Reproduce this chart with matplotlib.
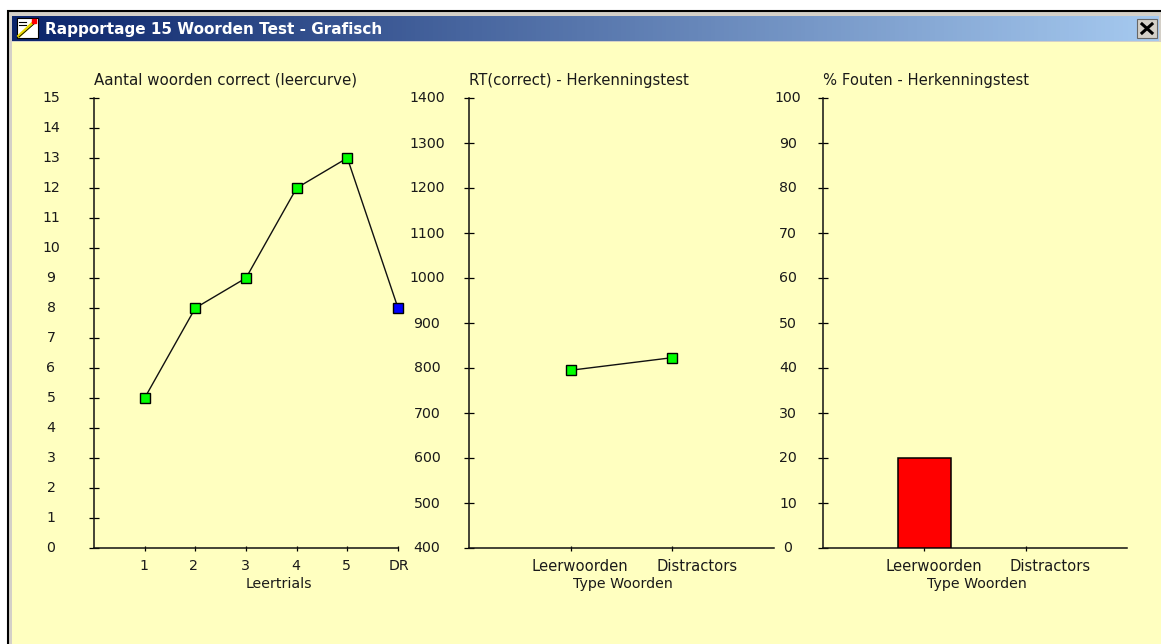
import matplotlib
matplotlib.use('Agg')
import matplotlib.pyplot as plt
import numpy as np
from matplotlib.patches import Rectangle
from matplotlib.transforms import ScaledTranslation

W, H = 1161, 644

# data
trials = ['1', '2', '3', '4', '5', 'DR']
words_correct = [5, 8, 9, 12, 13, 8]
trial_colors = ['#00ff00', '#00ff00', '#00ff00', '#00ff00', '#00ff00', '#0000ff']

types = ['Leerwoorden', 'Distractors']
rt_correct = [795, 823]
pct_errors = [20, 0]

plt.rcParams['font.family'] = ['DejaVu Sans']
FS = 10.2
TXT = '#1a1a1a'
BG = '#ffffc0'


def make_axes(fig, left, right, ylab_offset, top=98, bottom=548):
    ax = fig.add_axes([left / W, 1 - bottom / H, (right - left) / W, (bottom - top) / H])
    ax.patch.set_alpha(0)
    ax.spines['top'].set_visible(False)
    ax.spines['right'].set_visible(False)
    for s in ['left', 'bottom']:
        ax.spines[s].set_linewidth(1.1)
        ax.spines[s].set_color('#111111')
    ax.tick_params(axis='y', direction='inout', length=7.5, width=0.9, pad=(ylab_offset - 5.2) * 0.72,
                   labelsize=FS, labelcolor=TXT)
    ax.tick_params(axis='x', direction='inout', length=3.6, width=0.9, pad=6, labelsize=FS, labelcolor=TXT)
    return ax


def finish(ax, title, title_fs, xlabel, xlabel_pos):
    for lab in ax.get_yticklabels():
        lab.set_ha('center')
        lab.set_transform(lab.get_transform() + ScaledTranslation(0, 1 / 100, fig.dpi_scale_trans))
    ax.set_xlabel(xlabel, fontsize=FS, color=TXT)
    ax.xaxis.set_label_coords(xlabel_pos, -0.08)
    ax.xaxis.label.set_va('center')
    ax.text(0, 1.04, title, transform=ax.transAxes, fontsize=title_fs, color=TXT, ha='left', va='center')


def shift_labels(ax, shifts, fs=FS):
    for lab, dx in zip(ax.get_xticklabels(), shifts):
        lab.set_fontsize(fs)
        lab.set_transform(lab.get_transform() + ScaledTranslation(dx / 100, 0, fig.dpi_scale_trans))


fig = plt.figure(figsize=(W / 100, H / 100), dpi=100, facecolor='white')

# window chrome in pixel coordinates
bg = fig.add_axes([0, 0, 1, 1])
bg.set_xlim(0, W)
bg.set_ylim(H, 0)
bg.axis('off')
bg.add_patch(Rectangle((8, 11), W, H, fc='#d4d0c8', ec='black', lw=1.5))
bg.add_patch(Rectangle((12, 42), W, H, fc=BG, ec='none'))
grad = np.linspace(0, 1, 256).reshape(1, -1, 1)
c0 = np.array([0x0a, 0x24, 0x6a]) / 255
c1 = np.array([0xa6, 0xca, 0xf0]) / 255
bg.imshow(c0 + (c1 - c0) * grad, extent=(12, 1159, 41, 16), aspect='auto', zorder=2)
bg.set_xlim(0, W)
bg.set_ylim(H, 0)
bg.text(45, 29.5, 'Rapportage 15 Woorden Test - Grafisch', color='white', fontsize=11,
        fontweight='bold', va='center', ha='left', zorder=3)

# title icon
bg.add_patch(Rectangle((17, 18), 21, 20, fc='white', ec='black', lw=0.8, zorder=3))
bg.plot([19, 34], [36, 22], color='#e8d800', lw=2.4, zorder=4)
bg.plot([19, 34], [37, 24], color='black', lw=0.6, zorder=4)
bg.plot([34], [21], 's', color='red', ms=2.5, zorder=5)
bg.plot([19, 26], [22, 22], color='black', lw=0.8, zorder=4)
bg.plot([19, 26], [25, 25], color='black', lw=0.8, zorder=4)

# close button
bg.add_patch(Rectangle((1137, 19), 20, 19, fc='#d4d0c8', ec='#666666', lw=0.8, zorder=3))
bg.plot([1142, 1152], [24, 33], color='black', lw=2.2, zorder=4)
bg.plot([1142, 1152], [33, 24], color='black', lw=2.2, zorder=4)

# leercurve
ax1 = make_axes(fig, 94, 398, 43)
x1 = np.arange(1, len(trials) + 1)
ax1.plot(x1, words_correct, color='#111111', lw=1, zorder=3)
for x, y, c in zip(x1, words_correct, trial_colors):
    ax1.plot(x, y, 's', color=c, mec='black', mew=1.0, ms=7.6, zorder=4, clip_on=False)
ax1.set_xlim(0, 6)
ax1.set_ylim(0, 15)
ax1.set_xticks(x1)
ax1.set_xticklabels(trials)
ax1.set_yticks(range(0, 16))
finish(ax1, 'Aantal woorden correct (leercurve)', 10.85, 'Leertrials', 0.609)
shift_labels(ax1, [-1, -2, -1, -1, -1, 1])

# RT
ax2 = make_axes(fig, 469, 774, 42)
x2 = np.arange(1, len(types) + 1)
ax2.plot(x2, rt_correct, color='#111111', lw=1, zorder=3)
ax2.plot(x2, rt_correct, 's', color='#00ff00', mec='black', mew=1.0, ms=7.6, zorder=4)
ax2.set_xlim(0, 3)
ax2.set_ylim(400, 1400)
ax2.set_xticks(x2)
ax2.set_xticklabels(types)
ax2.set_yticks(range(400, 1401, 100))
finish(ax2, 'RT(correct) - Herkenningstest', 10.7, 'Type Woorden', 0.505)
shift_labels(ax2, [9, 25], 10.6)

# fouten
ax3 = make_axes(fig, 823, 1127, 35)
lw = [1.1 if v > 0 else 0 for v in pct_errors]
ax3.bar(x2, pct_errors, width=0.52, color='#ff0000', edgecolor='black', linewidth=lw, zorder=3)
ax3.set_xlim(0, 3)
ax3.set_ylim(0, 100)
ax3.set_xticks(x2)
ax3.set_xticklabels(types)
ax3.set_yticks(range(0, 101, 10))
finish(ax3, '% Fouten - Herkenningstest', 10.6, 'Type Woorden', 0.507)
shift_labels(ax3, [9, 24], 10.6)

fig.savefig('out.png', dpi=100)
